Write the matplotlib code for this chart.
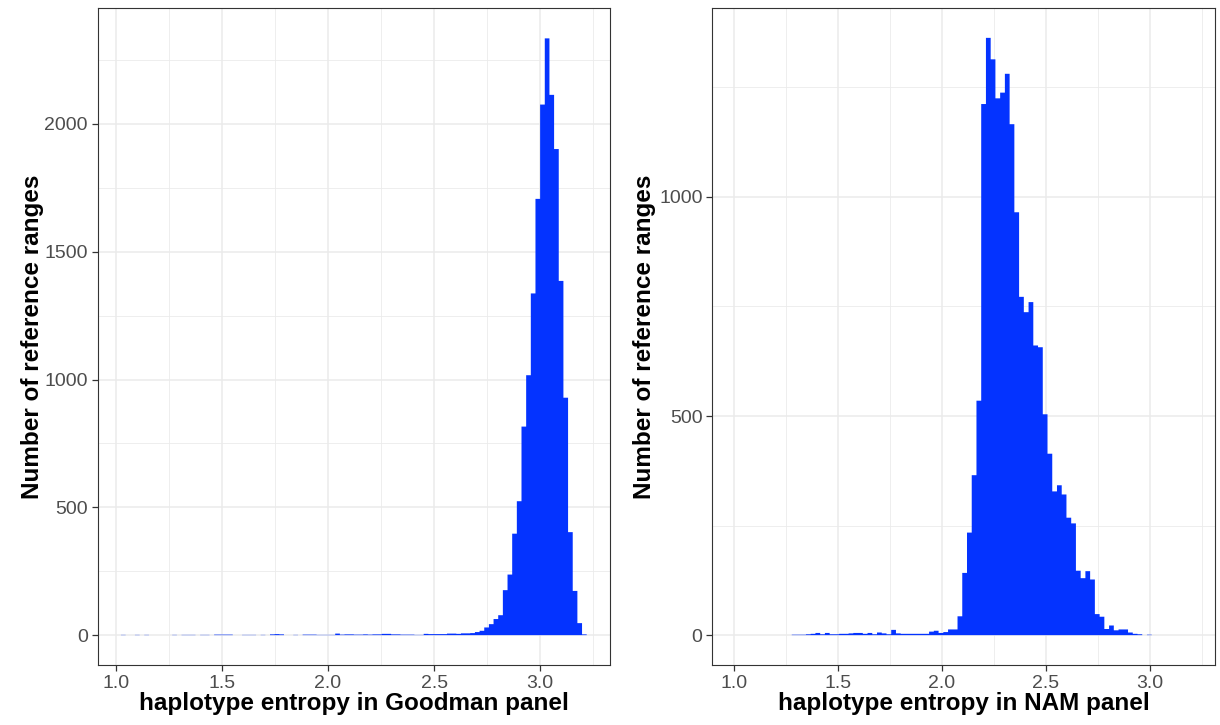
import matplotlib
matplotlib.use("Agg")
import matplotlib.pyplot as plt
import numpy as np
from matplotlib.ticker import MultipleLocator

# ---------------- data ----------------
# Goodman panel histogram (100 bins)
goodman_bin_start = 1.0247
goodman_bin_width = 0.021945
goodman_counts = [
    1, 0, 0, 1, 0, 1, 0, 0, 0, 0,
    0, 1, 0, 1, 1, 1, 0, 1, 1, 0,
    2, 2, 2, 2, 0, 0, 1, 1, 1, 0,
    1, 0, 3, 4, 3, 0, 0, 1, 0, 2,
    2, 2, 1, 1, 1, 1, 6, 2, 3, 3,
    2, 2, 3, 2, 3, 3, 5, 5, 3, 3,
    2, 2, 2, 1, 1, 5, 4, 4, 4, 4,
    6, 6, 5, 7, 7, 8, 12, 17, 30, 43,
    63, 78, 176, 237, 397, 524, 816, 1017, 1337, 1707,
    2076, 2335, 2114, 1902, 1386, 929, 403, 173, 47, 3,
]

# NAM panel histogram
nam_bin_start = 1.2765
nam_bin_width = 0.0228
nam_counts = [
    1, 1, 1, 2, 3, 5, 2, 5, 2, 2,
    3, 3, 4, 5, 5, 3, 5, 2, 6, 4,
    2, 12, 4, 3, 3, 3, 3, 3, 3, 8,
    10, 5, 7, 13, 13, 43, 142, 234, 365, 535,
    1212, 1363, 1314, 1225, 1238, 1281, 1166, 965, 772, 737,
    760, 661, 657, 504, 414, 328, 342, 321, 268, 255,
    147, 130, 146, 127, 48, 42, 14, 22, 11, 13,
    13, 6, 3, 2, 0, 1,
]

x_ticks = [1.0, 1.5, 2.0, 2.5, 3.0]
x_tick_labels = ["1.0", "1.5", "2.0", "2.5", "3.0"]
goodman_xlabel = "haplotype entropy in Goodman panel"
nam_xlabel = "haplotype entropy in NAM panel"
ylabel = "Number of reference ranges"

# ---------------- style ----------------
plt.rcParams['font.family'] = ['Liberation Sans', 'DejaVu Sans']
BAR = '#0433ff'
GRID = '#ebebeb'
BORDER = '#333333'
TICKTXT = '#4d4d4d'

W, H = 1220, 725
fig = plt.figure(figsize=(W / 100, H / 100), dpi=100)

def px_axes(x0, x1, y0, y1):
    return fig.add_axes([x0 / W, 1 - y1 / H, (x1 - x0) / W, (y1 - y0) / H])

ax1 = px_axes(97.7, 610, 8, 665)
ax2 = px_axes(712.3, 1215, 8, 665)

def style(ax, counts, start, width, xlim, ymax, ymajor, xlabel, ypad):
    edges = start + width * np.arange(len(counts) + 1)
    st = ax.stairs(counts, edges, fill=True, color=BAR, linewidth=0,
                   zorder=3, baseline=0)
    st.set_snap(False)
    ax.set_xlim(*xlim)
    ax.set_ylim(-0.05 * ymax, 1.05 * ymax)
    ax.set_xticks(x_ticks)
    ax.set_xticklabels(x_tick_labels)
    ax.xaxis.set_minor_locator(MultipleLocator(0.25))
    ax.yaxis.set_major_locator(MultipleLocator(ymajor))
    ax.yaxis.set_minor_locator(MultipleLocator(ymajor / 2))
    ax.grid(which='major', color=GRID, linewidth=1.1, zorder=0)
    ax.grid(which='minor', color=GRID, linewidth=0.6, zorder=0)
    ax.set_axisbelow(True)
    for s in ax.spines.values():
        s.set_color(BORDER)
        s.set_linewidth(0.8)
    ax.tick_params(which='major', length=4, width=0.9, color=BORDER,
                   labelsize=14, labelcolor=TICKTXT, pad=3)
    ax.tick_params(which='minor', length=0)
    ax.set_xlabel(xlabel, fontsize=17.5, fontweight='bold', labelpad=0.5)
    ax.set_ylabel(ylabel, fontsize=17.5, fontweight='bold', labelpad=ypad)

style(ax1, goodman_counts, goodman_bin_start, goodman_bin_width,
      (0.915, 3.329), 2337, 500, goodman_xlabel, 0.5)
style(ax2, nam_counts, nam_bin_start, nam_bin_width,
      (0.894, 3.314), 1363, 500, nam_xlabel, 2.0)

fig.savefig("out.png", dpi=100, facecolor='white')
